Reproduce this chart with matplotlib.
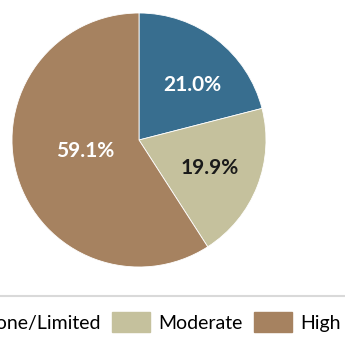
import matplotlib
matplotlib.use("Agg")
import matplotlib.pyplot as plt
from matplotlib.patches import Patch
from matplotlib.lines import Line2D

categories = ["None/Limited", "Moderate", "High"]
values = [21.0, 19.9, 59.1]
colors = ["#386e8f", "#c5c19d", "#a68260"]
label_colors = ["white", "#1a1a1a", "white"]

plt.rcParams['font.family'] = ['Lato', 'DejaVu Sans']

fig = plt.figure(figsize=(3.45, 3.42), dpi=100)
ax = fig.add_axes([12/345, 75/342, 254/345, 254/342])
wedges, texts, autotexts = ax.pie(
    values, colors=colors, startangle=90, counterclock=False,
    autopct=lambda p: f"{p:.1f}%", pctdistance=0.6,
    wedgeprops=dict(edgecolor="white", linewidth=0.6),
    textprops=dict(fontsize=15, fontweight="bold"))
for t, c in zip(autotexts, label_colors):
    t.set_color(c)
x, y = autotexts[0].get_position()
autotexts[0].set_position((x + 0.05, y - 0.04))
x, y = autotexts[2].get_position()
autotexts[2].set_position((x * 0.73, y * 0.73 + 0.04))
ax.set_xlim(-1, 1)
ax.set_ylim(-1, 1)
ax.set_aspect("equal")

fig.add_artist(Line2D([0, 1], [1 - 296/342, 1 - 296/342], transform=fig.transFigure,
                      color="#d9d9d9", linewidth=1.5))

handles = [Patch(facecolor=c, edgecolor=c, label=l) for c, l in zip(colors, categories)]
fig.legend(handles=handles, loc="center", bbox_to_anchor=(138/345, 1 - 322/342),
           ncol=3, frameon=False, fontsize=14, handlelength=1.95, handleheight=1.2,
           handletextpad=0.4, columnspacing=0.6, borderpad=0, borderaxespad=0)

fig.savefig("out.png", dpi=100)
